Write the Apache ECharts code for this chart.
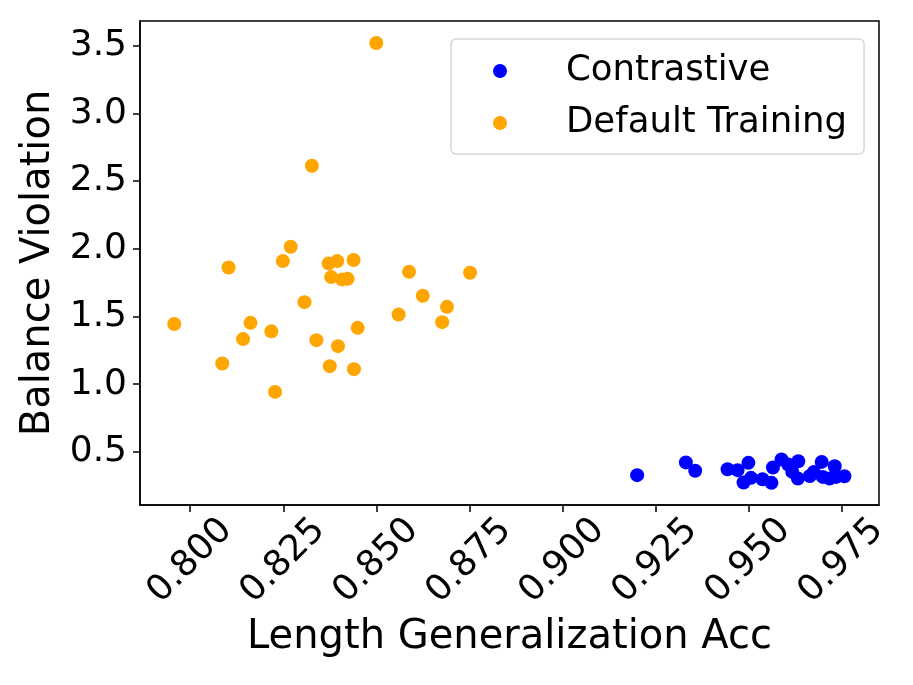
<!DOCTYPE html>
<html>
<head>
<meta charset="utf-8">
<script src="https://cdn.jsdelivr.net/npm/echarts@6/dist/echarts.min.js"></script>
<style>
  html, body { margin: 0; padding: 0; background: #fff; }
  #chart { width: 913px; height: 685px; }
</style>
</head>
<body>
<div id="chart"></div>
<script>
// 読み取った値 (x: Length Generalization Acc, y: Balance Violation)
const contrastiveX = [0.9201, 0.9332, 0.9357, 0.9444, 0.9471, 0.9500, 0.9507, 0.9487,
    0.9538, 0.9562, 0.9566, 0.9589, 0.9607, 0.9618, 0.9634, 0.9633, 0.9665, 0.9676,
    0.9697, 0.9700, 0.9718, 0.9732, 0.9736, 0.9758];
const contrastiveY = [0.328, 0.422, 0.360, 0.372, 0.365, 0.419, 0.308, 0.274,
    0.298, 0.271, 0.385, 0.444, 0.407, 0.352, 0.431, 0.303, 0.322, 0.352,
    0.426, 0.315, 0.303, 0.394, 0.315, 0.320];

const defaultX = [0.8500, 0.8327, 0.8270, 0.8249, 0.8103, 0.8372, 0.8395, 0.8439,
    0.8379, 0.8408, 0.8423, 0.8588, 0.8752, 0.8625, 0.8307, 0.8690, 0.8560, 0.8677,
    0.7957, 0.8162, 0.8450, 0.8218, 0.8142, 0.8339, 0.8397, 0.8086, 0.8375, 0.8440,
    0.8228];
const defaultY = [3.520, 2.613, 2.015, 1.909, 1.862, 1.892, 1.909, 1.917,
    1.791, 1.774, 1.778, 1.830, 1.823, 1.653, 1.606, 1.571, 1.515, 1.458,
    1.444, 1.453, 1.416, 1.390, 1.333, 1.325, 1.281, 1.153, 1.133, 1.111,
    0.943];

const xTicks = [0.800, 0.825, 0.850, 0.875, 0.900, 0.925, 0.950, 0.975];
const yTicks = [0.5, 1.0, 1.5, 2.0, 2.5, 3.0, 3.5];

const FONT = 'DejaVu Sans';

function zip(xs, ys) {
    return xs.map((x, i) => [x, ys[i]]);
}

const chart = echarts.init(document.getElementById('chart'), null, { renderer: 'canvas' });

const axisCommon = {
    axisLine: { show: true, onZero: false, lineStyle: { color: '#000', width: 1.5 } },
    axisTick: { show: true, length: 7, lineStyle: { color: '#000', width: 1.5 } },
    splitLine: { show: false },
    nameTextStyle: { fontFamily: FONT, fontSize: 40, color: '#000' }
};

chart.setOption({
    animation: false,
    backgroundColor: '#fff',
    grid: {
        left: 140, right: 34, top: 21, bottom: 180,
        show: true, borderColor: '#000', borderWidth: 1.5
    },
    legend: {
        orient: 'vertical',
        left: 451, top: 39,
        padding: [11, 17, 10, 42],
        itemGap: 10,
        itemWidth: 14, itemHeight: 14,
        icon: 'circle',
        backgroundColor: '#fff',
        borderColor: '#d6d6d6',
        borderWidth: 1.5,
        borderRadius: 5,
        textStyle: {
            fontFamily: FONT, fontSize: 35.5, color: '#000',
            lineHeight: 42, padding: [0, 0, 0, 54]
        },
        data: ['Contrastive', 'Default Training']
    },
    xAxis: Object.assign({}, axisCommon, {
        type: 'value',
        min: 0.7865, max: 0.9851,
        name: 'Length Generalization Acc',
        nameLocation: 'middle',
        nameGap: 112,
        axisTick: Object.assign({}, axisCommon.axisTick, { customValues: xTicks }),
        axisLabel: {
            customValues: xTicks,
            rotate: 45,
            align: 'center',
            verticalAlign: 'middle',
            margin: 56,
            fontFamily: FONT, fontSize: 36, color: '#000',
            formatter: v => v.toFixed(3)
        }
    }),
    yAxis: Object.assign({}, axisCommon, {
        type: 'value',
        min: 0.1075, max: 3.6825,
        name: 'Balance Violation',
        nameLocation: 'middle',
        nameGap: 76,
        axisTick: Object.assign({}, axisCommon.axisTick, { customValues: yTicks }),
        axisLabel: {
            customValues: yTicks,
            margin: 13,
            fontFamily: FONT, fontSize: 36, color: '#000',
            formatter: v => v.toFixed(1)
        }
    }),
    series: [
        {
            name: 'Contrastive',
            type: 'scatter',
            symbolSize: 14,
            itemStyle: { color: '#0000ff', opacity: 1 },
            data: zip(contrastiveX, contrastiveY)
        },
        {
            name: 'Default Training',
            type: 'scatter',
            symbolSize: 14,
            itemStyle: { color: '#ffa500', opacity: 1 },
            data: zip(defaultX, defaultY)
        }
    ]
});
</script>
</body>
</html>
